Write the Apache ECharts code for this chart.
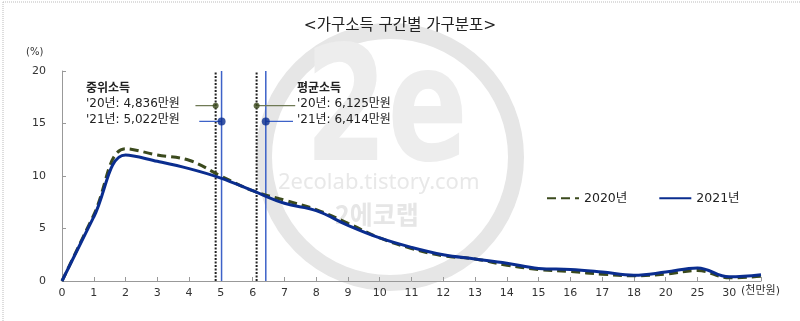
<!DOCTYPE html>
<html><head><meta charset="utf-8">
<script src="https://cdn.jsdelivr.net/npm/echarts@6/dist/echarts.min.js"></script>
<style>html,body{margin:0;padding:0;background:#fff}#c{width:800px;height:321px}</style>
</head><body><div id="c"></div>
<script>
// x categories (천만원)
const categories = ['0','1','2','3','4','5','6','7','8','9','10','11','12','13','14','15','16','17','18','20','25','30',''];
// household share (%)
const share2020 = [0,6.3,12.6,12.0,11.5,10.0,8.6,7.7,6.8,5.5,4.1,3.1,2.4,2.1,1.5,1.1,0.9,0.65,0.5,0.65,1.0,0.3,0.45];
const share2021 = [0,6.1,12.0,11.4,10.7,9.8,8.6,7.4,6.7,5.3,4.1,3.2,2.5,2.1,1.7,1.2,1.1,0.85,0.55,0.85,1.25,0.4,0.6];
const seriesNames = ['2020년','2021년'];
const yTicks = [0,5,10,15,20];
// median / mean income (천만원), 2020 then 2021
const medianX = [4.836, 5.022];
const meanX = [6.125, 6.414];
const markerY = [16.7, 15.2];
const medianLeaderStart = [4.2, 4.32];
const meanLeaderEnd = [7.34, 7.27];
const medianTexts = ['중위소득', "'20년: 4,836만원", "'21년: 5,022만원"];
const meanTexts = ['평균소득', "'20년: 6,125만원", "'21년: 6,414만원"];

const C20 = '#3b4a1d', C21 = '#0a2d8f', V21 = '#3d62c8', L20 = '#6f7a55';
const KR = "'DejaVu Sans','Noto Sans CJK KR',sans-serif";

const chart = echarts.init(document.getElementById('c'), null, {renderer:'canvas'});

function vline(x, color, type, width) {
  return {type:'line', xAxisIndex:1, yAxisIndex:0, data:[[x,0],[x,20]], symbol:'none', silent:true,
    lineStyle:{color, type, width}, z:3};
}
function seg(x1, x2, y, color) {
  return {type:'line', xAxisIndex:1, yAxisIndex:0, data:[[x1,y],[x2,y]], symbol:'none', silent:true,
    lineStyle:{color, width:1.2}, z:3};
}
function dot(x, y, color, size) {
  return {type:'scatter', xAxisIndex:1, yAxisIndex:0, data:[[x,y]], symbolSize:size, silent:true,
    itemStyle:{color}, z:6};
}

const ann = [];
function txt(list, left) {
  const ys = [90, 105, 121];
  list.forEach((t, i) => ann.push({type:'text', left, top: ys[i]-7, z:10,
    style:{text:t, fill:'#222', font:(i===0?'bold ':'')+'12px '+KR}}));
}
txt(medianTexts, 86);
txt(meanTexts, 297);

chart.setOption({
  animation:false,
  backgroundColor:'#fff',
  title:{text:'<가구소득 구간별 가구분포>', left:'center', top:13,
    textStyle:{fontSize:15.5, fontWeight:'normal', color:'#222', fontFamily:KR}},
  legend:{data:seriesNames, left:541, top:187, itemWidth:32, itemHeight:10, itemGap:31,
    itemStyle:{opacity:0},
    textStyle:{fontSize:12.5, color:'#222', fontFamily:KR}},
  grid:{left:62, right:39, top:71, bottom:40},
  xAxis:[
    {type:'category', data:categories, boundaryGap:false,
      axisLine:{lineStyle:{color:'#999'}},
      axisTick:{inside:true, length:4, interval:0, lineStyle:{color:'#999'}},
      axisLabel:{interval:0, margin:7, fontSize:11, color:'#333', fontFamily:'DejaVu Sans'}},
    {type:'value', min:0, max:categories.length-1, show:false}
  ],
  yAxis:{type:'value', min:yTicks[0], max:yTicks[yTicks.length-1], interval:5,
    axisLine:{show:true, lineStyle:{color:'#999'}},
    axisTick:{show:true, inside:true, length:4, lineStyle:{color:'#999'}},
    splitLine:{show:false},
    axisLabel:{margin:16, fontSize:11, color:'#333', fontFamily:'DejaVu Sans'}},
  graphic:[
    {type:'line', shape:{x1:3,y1:2,x2:800,y2:2}, style:{stroke:'#bbb', lineDash:[1,1]}, z:-5},
    {type:'line', shape:{x1:3,y1:2,x2:3,y2:321}, style:{stroke:'#bbb', lineDash:[1,1]}, z:-5},
    {type:'circle', shape:{cx:390, cy:157, r:126}, style:{fill:'none', stroke:'#e6e6e6', lineWidth:16}, z:-5},
    {type:'text', x:305, y:38, scaleX:0.74, z:-5, style:{text:'2e', fill:'#ededed', font:'bold 160px "DejaVu Sans"'}},
    {type:'text', x:278, y:172, z:-4, style:{text:'2ecolab.tistory.com', fill:'#e8e8e8', font:'22px "Noto Sans"'}},
    {type:'text', x:335, y:202, z:-4, style:{text:'2에코랩', fill:'#e6e6e6', font:'bold 25px "Noto Sans CJK KR"'}},
    {type:'text', x:741, y:286, style:{text:'(천만원)', fill:'#333', font:'11px '+KR}},
    {type:'text', x:26, y:47, style:{text:'(%)', fill:'#333', font:'10px "DejaVu Sans"'}}
  ].concat(ann),
  series:[
    {name:seriesNames[0], type:'line', data:share2020, smooth:0.4, symbol:'none',
      lineStyle:{color:C20, width:3, type:[9,5]}, itemStyle:{color:C20}, z:4},
    {name:seriesNames[1], type:'line', data:share2021, smooth:0.4, symbol:'none',
      lineStyle:{color:C21, width:3}, itemStyle:{color:C21}, z:5},
    vline(medianX[0], '#222', [2,1.5], 2),
    vline(medianX[1], V21, 'solid', 1.5),
    vline(meanX[0], '#222', [2,1.5], 2),
    vline(meanX[1], V21, 'solid', 1.5),
    seg(medianLeaderStart[0], medianX[0], markerY[0], L20),
    seg(medianLeaderStart[1], medianX[1], markerY[1], V21),
    seg(meanX[0], meanLeaderEnd[0], markerY[0], L20),
    seg(meanX[1], meanLeaderEnd[1], markerY[1], V21),
    dot(medianX[0], markerY[0], C20, 6),
    dot(medianX[1], markerY[1], C21, 8),
    dot(meanX[0], markerY[0], C20, 6),
    dot(meanX[1], markerY[1], C21, 8)
  ]
});
</script></body></html>
